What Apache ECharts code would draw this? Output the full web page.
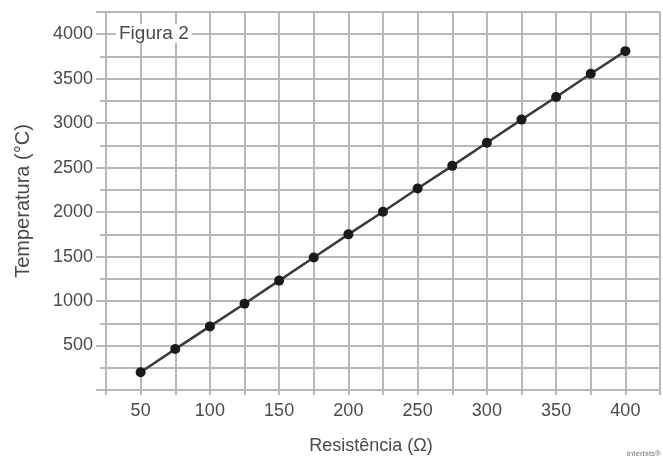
<!DOCTYPE html>
<html>
<head>
<meta charset="utf-8">
<script src="https://cdn.jsdelivr.net/npm/echarts@6/dist/echarts.min.js"></script>
<style>
  html, body { margin: 0; padding: 0; background: #fff; }
</style>
</head>
<body>
<div id="chart" style="width:663px;height:462px;"></div>
<script>
  // resistência (ohm) e temperatura (°C)
  var resistencia = [50, 75, 100, 125, 150, 175, 200, 225, 250, 275, 300, 325, 350, 375, 400];
  var temperatura = [200, 460, 715, 970, 1230, 1490, 1750, 2005, 2265, 2520, 2780, 3040, 3295, 3555, 3810];
  var xLabels = [50, 100, 150, 200, 250, 300, 350, 400];
  var yLabels = [500, 1000, 1500, 2000, 2500, 3000, 3500, 4000];

  var pontos = resistencia.map(function (r, i) { return [r, temperatura[i]]; });
  var gridColor = '#b8b8b8';
  var textColor = '#4a4a4a';
  var fonte = 'Liberation Sans, Arial, sans-serif';

  var chart = echarts.init(document.getElementById('chart'));
  var option = {
    animation: false,
    grid: { left: 106, right: 1, top: 12, bottom: 72 },
    xAxis: {
      type: 'value',
      min: 25, max: 425, interval: 25,
      name: 'Resistência (Ω)',
      nameLocation: 'middle',
      nameGap: 47,
      nameTextStyle: { color: textColor, fontSize: 18, fontFamily: fonte, padding: [0, 24, 0, 0] },
      axisLine: { show: true, lineStyle: { color: gridColor, width: 2 } },
      axisTick: { show: true, length: 5, inside: false, lineStyle: { color: gridColor, width: 2 } },
      axisLabel: {
        margin: 12, color: textColor, fontSize: 18, fontFamily: fonte,
        formatter: function (v) { return xLabels.indexOf(v) >= 0 ? String(v) : ''; }
      },
      splitLine: { show: true, lineStyle: { color: gridColor, width: 2 } }
    },
    yAxis: [{
      type: 'value',
      min: 0, max: 4250, interval: 250,
      name: 'Temperatura (°C)',
      nameLocation: 'middle',
      nameGap: 73,
      nameRotate: 90,
      nameTextStyle: { color: textColor, fontSize: 20, fontFamily: fonte },
      axisLine: { show: true, lineStyle: { color: gridColor, width: 2 } },
      axisTick: { show: true, length: 6, lineStyle: { color: gridColor, width: 2 } },
      axisLabel: {
        margin: 13, color: textColor, fontSize: 18, fontFamily: fonte,
        formatter: function (v) { return yLabels.indexOf(v) >= 0 ? String(v) : ''; }
      },
      splitLine: { show: true, lineStyle: { color: gridColor, width: 2 } }
    }, {
      // traços mais longos nos valores rotulados
      type: 'value',
      position: 'left',
      min: 0, max: 4250, interval: 500,
      axisLine: { show: false },
      axisTick: { show: true, length: 10, lineStyle: { color: gridColor, width: 2 } },
      axisLabel: { show: false },
      splitLine: { show: false }
    }],
    graphic: [{
      type: 'text',
      left: 116, top: 24,
      z: 100,
      style: {
        text: 'Figura 2',
        fill: textColor,
        font: '19px ' + fonte,
        backgroundColor: '#fff',
        padding: [0, 3, 0, 3]
      }
    }, {
      type: 'text',
      right: 2, top: 450,
      style: { text: 'Interbits®', fill: '#777', font: '8px ' + fonte }
    }],
    series: [{
      type: 'line',
      data: pontos,
      symbol: 'circle',
      symbolSize: 10,
      lineStyle: { color: '#3a3a3a', width: 2.5 },
      itemStyle: { color: '#1a1a1a' },
      z: 10
    }]
  };
  chart.setOption(option);
</script>
</body>
</html>
